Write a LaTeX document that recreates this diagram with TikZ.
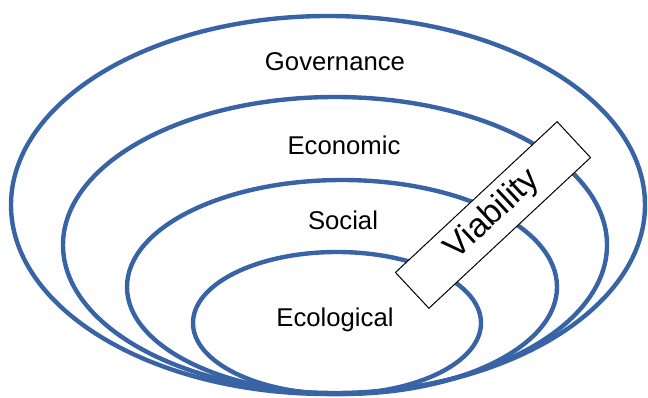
\documentclass[tikz,border=0pt]{standalone}
\usepackage{fontspec}
\setmainfont{Liberation Sans}
\usepackage{xcolor}
\definecolor{ringblue}{RGB}{56,99,165}

\begin{document}
\begin{tikzpicture}[x=1pt,y=1pt,
  ring/.style={ringblue, line width=4.4pt},
  lbl/.style={font=\fontsize{25.7}{30}\selectfont}]
\useasboundingbox (0,0) rectangle (648,397);

\coordinate (gov) at (328,192);
\coordinate (eco) at (335,152);
\coordinate (soc) at (342,110);
\coordinate (ecl) at (337,74);

\draw[ring] (gov) ellipse [x radius=317pt, y radius=189pt];
\draw[ring] (eco) ellipse [x radius=272pt, y radius=148pt];
\draw[ring] (soc) ellipse [x radius=215pt, y radius=107pt];
\draw[ring] (ecl) ellipse [x radius=144pt, y radius=71pt];

\node[lbl] (govtext) at (335,335) {Governance};
\node[lbl] (ecotext) at (344,252) {Economic};
\node[lbl] (soctext) at (343,177) {Social};
\node[lbl] (ecltext) at (335,77) {Ecological};

\node[draw, fill=white, line width=1pt, rotate=43,
  minimum width=221pt, minimum height=49pt, inner sep=0pt,
  font=\fontsize{33.7}{38}\selectfont] (viab) at (493,182) {Viability};
\end{tikzpicture}
\end{document}
